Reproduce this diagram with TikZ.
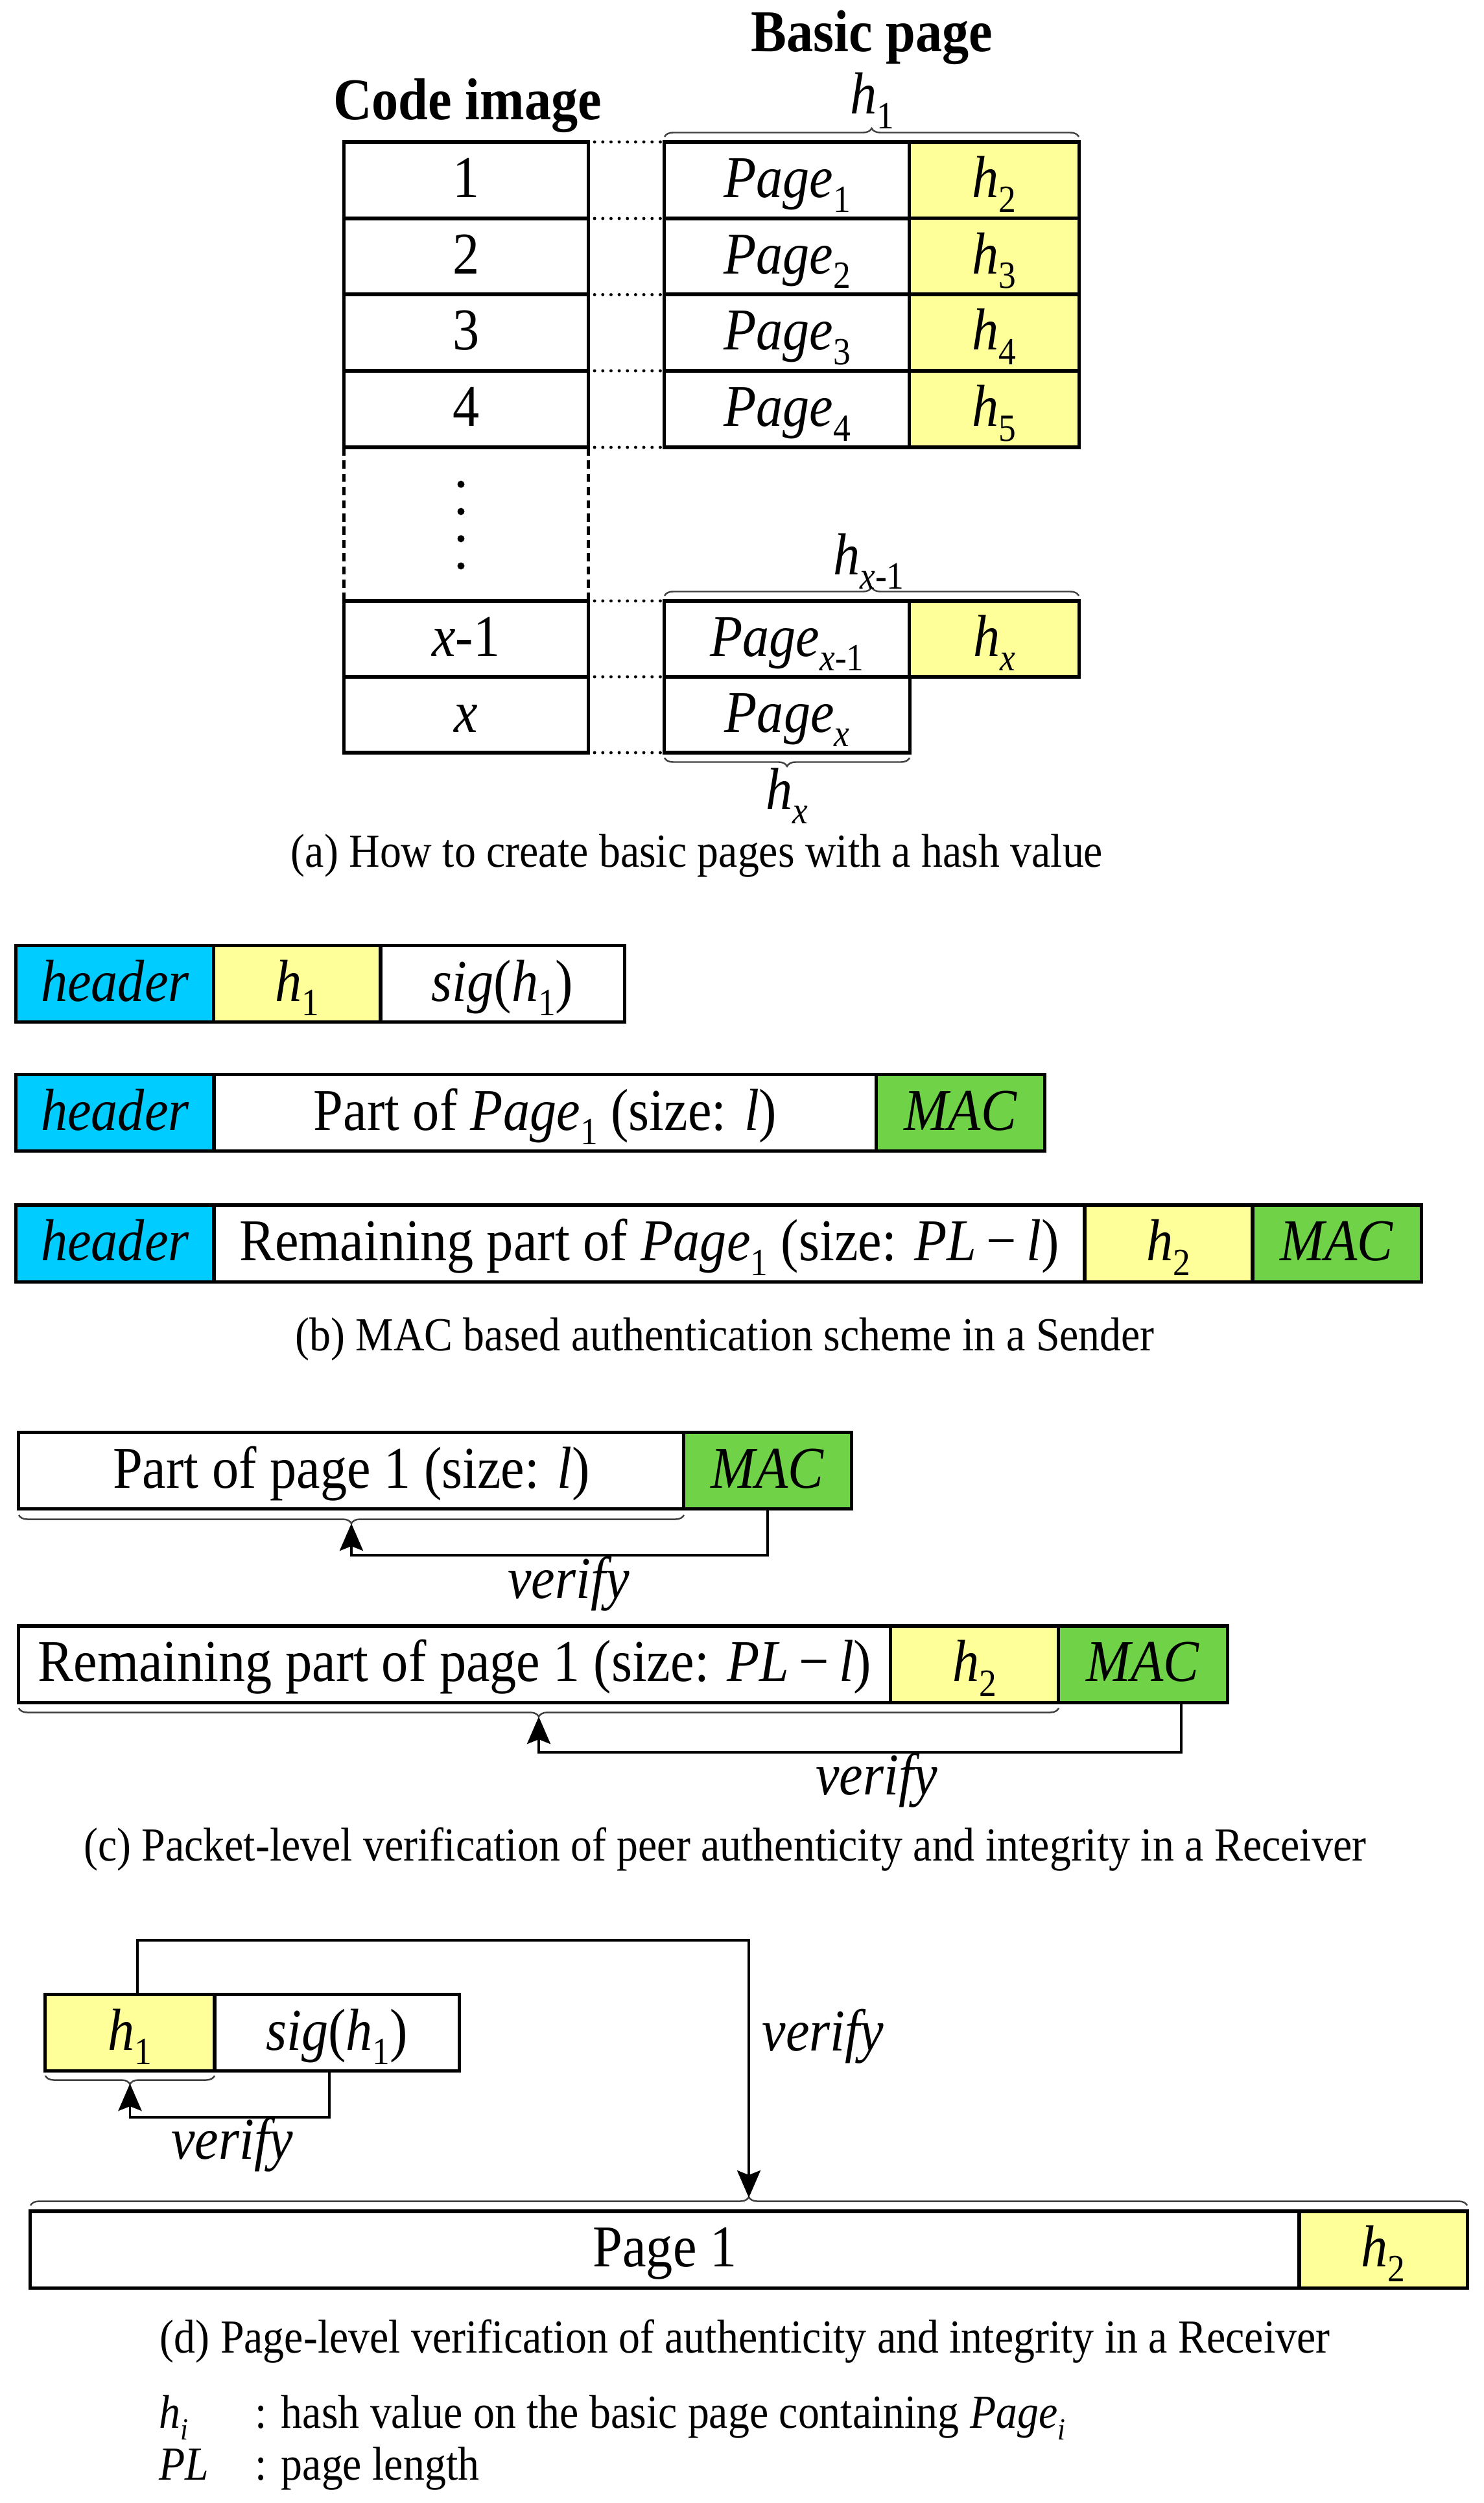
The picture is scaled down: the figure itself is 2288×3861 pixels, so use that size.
\documentclass[tikz,border=0pt]{standalone}
\usepackage{fontspec}
\setmainfont{Liberation Serif}[FakeStretch=0.9]
\usepackage{graphicx}
\usetikzlibrary{arrows.meta,decorations.pathreplacing}
\definecolor{hyel}{RGB}{255,255,153}
\definecolor{hcyan}{RGB}{0,204,255}
\definecolor{hgreen}{RGB}{112,210,70}
\newcommand\mysub[1]{\raisebox{-0.25em}{\scalebox{0.65}{#1}}}
\begin{document}
\begin{tikzpicture}[x=0.01cm,y=-0.01cm,
  cell/.style={draw, line width=1.45pt, inner sep=0pt, outer sep=0pt, minimum height=1.18cm,
    text height=0.56cm, text depth=0.03cm, font=\fontsize{26}{30}\selectfont},
  ycell/.style={cell, fill=hyel},
  ccell/.style={cell, fill=hcyan},
  gcell/.style={cell, fill=hgreen},
  hd/.style={inner sep=0pt, font=\fontsize{26}{30}\selectfont\bfseries},
  lbl/.style={inner sep=0pt, font=\fontsize{26}{30}\selectfont},
  captxt/.style={inner sep=0pt, font=\fontsize{20.8}{24}\selectfont},
  dotl/.style={line width=1.4pt, dash pattern=on 0pt off 3.6pt, line cap=round, shorten <=0.1cm},
  dashl/.style={line width=1.4pt, dash pattern=on 3.6pt off 2.2pt},
  brc/.style={decorate, decoration={brace, amplitude=0.13cm}, line width=0.7pt, draw=black!75},
  arr/.style={line width=1.1pt, -{Stealth[length=0.42cm, width=0.36cm, inset=0.07cm]}}
]
\useasboundingbox (0,0) rectangle (2288,3861);

% ---------------- (a) ----------------
\node[hd, anchor=base] (codehd) at (721,185) {Code image};
\node[hd, anchor=base] (basichd) at (1345,80) {Basic page};

\node[cell, minimum width=3.76cm] (ci1) at (719,278) {1};
\node[cell, minimum width=3.76cm] (ci2) at (719,395.5) {2};
\node[cell, minimum width=3.76cm] (ci3) at (719,513) {3};
\node[cell, minimum width=3.76cm] (ci4) at (719,631) {4};
\node[cell, minimum width=3.76cm, minimum height=1.17cm] (cixm) at (719,985.5) {\textit{x}-1};
\node[cell, minimum width=3.76cm, minimum height=1.17cm] (cix) at (719,1102.5) {\textit{x}};

\node[cell, minimum width=3.78cm] (bp1) at (1214,278) {\textit{Page}\mysub{1}};
\node[ycell, minimum width=2.61cm] (bh2) at (1533.5,278) {\textit{h}\mysub{2}};
\node[cell, minimum width=3.78cm] (bp2) at (1214,395.5) {\textit{Page}\mysub{2}};
\node[ycell, minimum width=2.61cm] (bh3) at (1533.5,395.5) {\textit{h}\mysub{3}};
\node[cell, minimum width=3.78cm] (bp3) at (1214,513) {\textit{Page}\mysub{3}};
\node[ycell, minimum width=2.61cm] (bh4) at (1533.5,513) {\textit{h}\mysub{4}};
\node[cell, minimum width=3.78cm] (bp4) at (1214,631) {\textit{Page}\mysub{4}};
\node[ycell, minimum width=2.61cm] (bh5) at (1533.5,631) {\textit{h}\mysub{5}};
\node[cell, minimum width=3.78cm, minimum height=1.17cm] (bpxm) at (1214,985.5) {\textit{Page}\mysub{\textit{x}-1}};
\node[ycell, minimum width=2.61cm, minimum height=1.17cm] (bhx) at (1533.5,985.5) {\textit{h}\mysub{\textit{x}}};
\node[cell, minimum width=3.78cm, minimum height=1.17cm] (bpx) at (1214,1102.5) {\textit{Page}\mysub{\textit{x}}};

\draw[dotl] (ci1.north east) -- (bp1.north west);
\draw[dotl] (ci1.south east) -- (bp1.south west);
\draw[dotl] (ci2.south east) -- (bp2.south west);
\draw[dotl] (ci3.south east) -- (bp3.south west);
\draw[dotl] (ci4.south east) -- (bp4.south west);
\draw[dotl] (cixm.north east) -- (bpxm.north west);
\draw[dotl] (cixm.south east) -- (bpxm.south west);
\draw[dotl] (cix.south east) -- (bpx.south west);

\draw[dashl] (ci4.south west) -- (cixm.north west);
\draw[dashl] (ci4.south east) -- (cixm.north east);
\foreach \yy in {747,789,831,873} \fill (711,\yy) circle[radius=0.055cm];

\draw[brc] (1025,211) -- (1664,211);
\draw[brc] (1025,919) -- (1664,919);
\draw[brc] (1403,1169) -- (1025,1169);
\node[lbl, anchor=base] (lh1) at (1345,176) {\textit{h}\mysub{1}};
\node[lbl, anchor=base] (lhxm) at (1340,886) {\textit{h}\mysub{\textit{x}-1}};
\node[lbl, anchor=base] (lhx) at (1214,1248) {\textit{h}\mysub{\textit{x}}};

\node[captxt, anchor=base] (capa) at (1075,1337) {(a) How to create basic pages with a hash value};

% ---------------- (b) ----------------
\node[ccell, minimum width=3.05cm] (hd1) at (177.5,1517.5) {\textit{header}};
\node[ycell, minimum width=2.57cm] (bh1) at (458.5,1517.5) {\textit{h}\mysub{1}};
\node[cell, minimum width=3.76cm] (bsig) at (775,1517.5) {\textit{sig}(\textit{h}\mysub{1})};

\node[ccell, minimum width=3.05cm] (hd2) at (177.5,1716.5) {\textit{header}};
\node[cell, minimum width=10.22cm] (bpart) at (841,1716.5) {Part of \textit{Page}\mysub{1} (size: \textit{l})};
\node[gcell, minimum width=2.59cm] (bmac1) at (1481.5,1716.5) {\textit{MAC}};

\node[ccell, minimum width=3.05cm] (hd3) at (177.5,1918) {\textit{header}};
\node[cell, minimum width=13.43cm] (brem) at (1001.5,1918) {Remaining part of \textit{Page}\mysub{1} (size: \textit{PL}\,−\,\textit{l})};
\node[ycell, minimum width=2.59cm] (bh2b) at (1802.5,1918) {\textit{h}\mysub{2}};
\node[gcell, minimum width=2.60cm] (bmac2) at (2062,1918) {\textit{MAC}};

\node[captxt, anchor=base] (capb) at (1118,2083) {(b) MAC based authentication scheme in a Sender};

% ---------------- (c) ----------------
\node[cell, minimum width=10.26cm] (cpart) at (542,2268.5) {Part of page 1 (size: \textit{l})};
\node[gcell, minimum width=2.58cm] (cmac1) at (1184,2268.5) {\textit{MAC}};
\draw[brc] (1055,2337) -- (29,2337);
\coordinate (ct1) at (542,2350);
\coordinate (cy1) at (0,2399);
\draw[arr] (cmac1.south) -- (cmac1.south |- cy1) -| (ct1);
\node[lbl, anchor=base] (cv1) at (877,2465) {\textit{verify}};

\node[cell, minimum width=13.45cm] (crem) at (701.5,2567) {Remaining part of page 1 (size: \textit{PL}\,−\,\textit{l})};
\node[ycell, minimum width=2.59cm] (ch2) at (1503.5,2567) {\textit{h}\mysub{2}};
\node[gcell, minimum width=2.60cm] (cmac2) at (1763,2567) {\textit{MAC}};
\draw[brc] (1633,2635) -- (29,2635);
\coordinate (ct2) at (831,2648);
\coordinate (cs2) at ([xshift=0.59cm]cmac2.south);
\coordinate (cy2) at (0,2703);
\draw[arr] (cs2) -- (cs2 |- cy2) -| (ct2);
\node[lbl, anchor=base] (cv2) at (1352,2768) {\textit{verify}};

\node[captxt, anchor=base] (capc) at (1118,2870) {(c) Packet-level verification of peer authenticity and integrity in a Receiver};

% ---------------- (d) ----------------
\node[ycell, minimum width=2.61cm] (dh1) at (200.5,3135.5) {\textit{h}\mysub{1}};
\node[cell, minimum width=3.77cm] (dsig) at (519.5,3135.5) {\textit{sig}(\textit{h}\mysub{1})};
\draw[brc] (331,3202) -- (70,3202);
\coordinate (dt1) at (200.5,3214);
\coordinate (ds1) at ([xshift=-0.115cm]dsig.south);
\coordinate (dy1) at (0,3266);
\draw[arr] (ds1) -- (ds1 |- dy1) -| (dt1);
\node[lbl, anchor=base] (dv1) at (358,3330) {\textit{verify}};

\node[cell, minimum width=19.57cm] (dpage) at (1025.5,3470) {Page 1};
\node[ycell, minimum width=2.59cm] (dh2) at (2133.5,3470) {\textit{h}\mysub{2}};
\draw[brc] (47,3402) -- (2263,3402);
\coordinate (dt2) at (1155,3390);
\coordinate (ds2) at ([xshift=0.115cm]dh1.north);
\coordinate (dy2) at (0,2993);
\draw[arr] (ds2) -- (ds2 |- dy2) -| (dt2);
\node[lbl, anchor=base west] (dv2) at (1175,3163) {\textit{verify}};

\node[captxt, anchor=base] (capd) at (1149,3629) {(d) Page-level verification of authenticity and integrity in a Receiver};

\node[captxt, anchor=base west] (lg1a) at (245,3745) {\textit{h}\mysub{\textit{i}}};
\node[captxt, anchor=base west] (lg1b) at (393,3745) {: hash value on the basic page containing \textit{Page}\mysub{\textit{i}}};
\node[captxt, anchor=base west] (lg2a) at (245,3825) {\textit{PL}};
\node[captxt, anchor=base west] (lg2b) at (393,3825) {: page length};
\end{tikzpicture}
\end{document}
